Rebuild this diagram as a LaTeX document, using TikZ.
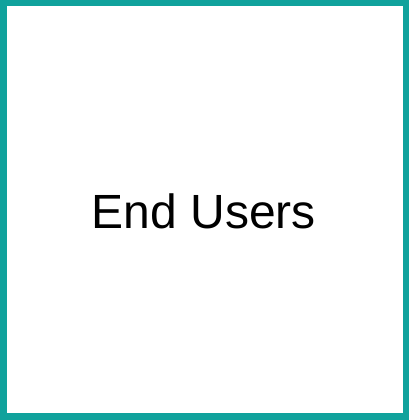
\documentclass[tikz,border=0pt]{standalone}
\usepackage{fontspec}
\setmainfont{Liberation Sans}
\definecolor{teal1}{RGB}{16,162,156}
\tikzset{frame/.style={draw=teal1,line width=6.5pt,fill=white}}
\begin{document}
\begin{tikzpicture}[x=1pt,y=1pt]
\useasboundingbox (0,0) rectangle (409,420);
\fill[white] (0,0) rectangle (409,420);
\draw[frame] (3.25,3.25) rectangle (405.75,416.75);
\node[font=\fontsize{48}{57}\selectfont,inner sep=0pt,anchor=base] (label) at (204,191) {End Users};
\end{tikzpicture}
\end{document}
